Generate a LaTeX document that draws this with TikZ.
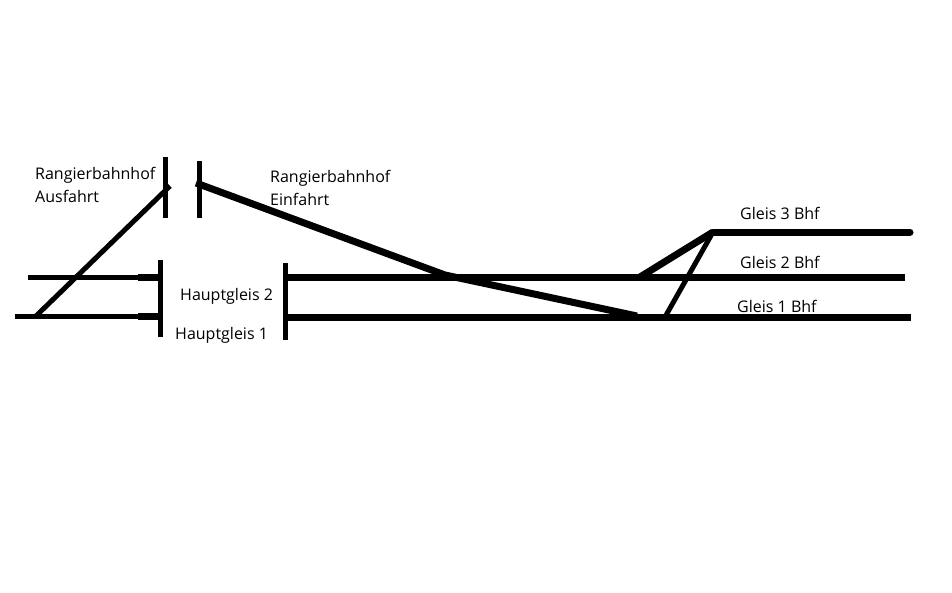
\documentclass[tikz,border=0pt]{standalone}
\usepackage{fontspec}
\setmainfont{Open Sans}
\begin{document}
\begin{tikzpicture}[x=1pt,y=-1pt,
  track/.style={line width=7pt},
  thin/.style={line width=5pt},
  bar/.style={line width=5pt},
  lbl/.style={anchor=west,inner sep=0pt,font=\fontsize{16}{23}\selectfont,align=left}]
\useasboundingbox[fill=white] (0,0) rectangle (952,592);
% coordinates
\coordinate (h2l) at (28,277);
\coordinate (h2lb) at (160,277);
\coordinate (h1l) at (15,316);
\coordinate (h1lb) at (160,316);
\coordinate (h2r) at (285,277);
\coordinate (h2e) at (905,277);
\coordinate (h1r) at (285,317);
\coordinate (h1e) at (911,317);
\coordinate (g3a) at (713,232);
\coordinate (g3e) at (910,232);
\coordinate (sw2) at (640,277);
\coordinate (sw1) at (665,317);
\coordinate (ausA) at (170,186);
\coordinate (ausB) at (36,316);
\coordinate (einA) at (196,183);
\coordinate (einK) at (445,275);
\coordinate (einB) at (637,316);
% left tracks
\draw[thin] (h2l) -- (h2lb);
\draw[thin] (h1l) -- (h1lb);
\draw[track] (138,277) -- (h2lb);
\draw[track] (138,316) -- (h1lb);
\draw[bar] (160,260) -- (160,337);
\draw[bar] (285,263) -- (285,340);
% right tracks
\draw[track] (h2r) -- (h2e);
\draw[track] (h1r) -- (h1e);
\draw[track,line cap=round] (g3a) -- (g3e);
\draw[track] (sw2) -- (g3a);
\draw[thin] (sw1) -- (g3a);
% yard tracks
\draw[bar] (165,157) -- (165,218);
\draw[bar] (199,161) -- (199,218);
\draw[thin] (ausA) -- (ausB);
\draw[track,line join=round] (einA) -- (einK) -- (einB);
% labels
\node[lbl] (ta) at (35,185) {Rangierbahnhof\\Ausfahrt};
\node[lbl] (te) at (270,188) {Rangierbahnhof\\Einfahrt};
\node[lbl] (hg2) at (180,296) {Hauptgleis 2};
\node[lbl] (hg1) at (175,335) {Hauptgleis 1};
\node[lbl] (g3) at (740,213) {Gleis 3 Bhf};
\node[lbl] (g2) at (740,262) {Gleis 2 Bhf};
\node[lbl] (g1) at (737,306) {Gleis 1 Bhf};
\end{tikzpicture}
\end{document}
